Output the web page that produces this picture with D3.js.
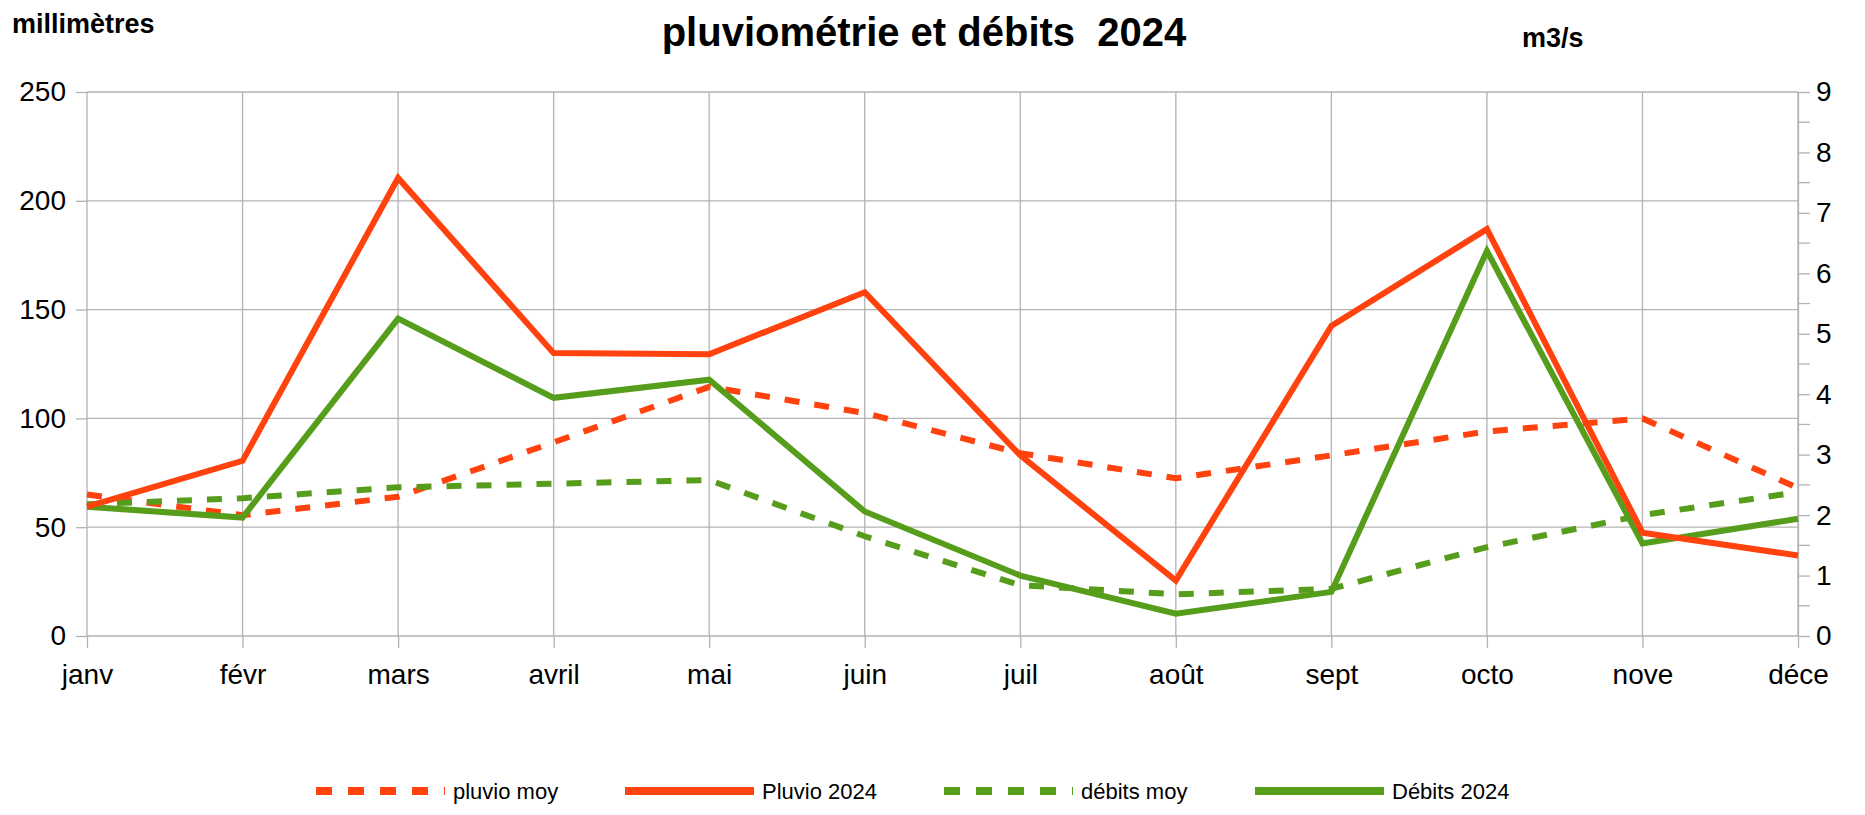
<!DOCTYPE html>
<html lang="fr">
<head>
    <meta charset="UTF-8">
    <title>pluviométrie et débits 2024</title>
    <script type="application/javascript" src="https://cdnjs.cloudflare.com/ajax/libs/d3/7.8.5/d3.min.js"></script>
    <style type="text/css">
        body { margin: 0; background: #fff; }
        svg { font-family: "Liberation Sans", Arial, sans-serif; }
        .grid line { stroke: #b3b3b3; stroke-width: 1.3; }
        .axis path, .axis line { stroke: #b3b3b3; stroke-width: 1.3; }
        .axis text { fill: #000; }
    </style>
</head>
<body>
<svg width="1865" height="815"></svg>
<script type="application/javascript">
    var MONTHS = ['janv', 'févr', 'mars', 'avril', 'mai', 'juin', 'juil', 'août', 'sept', 'octo', 'nove', 'déce'];
    var PLUVIO_MOY = [65, 55.5, 64, 89, 114.5, 102.5, 84, 72.5, 83, 94, 100, 68];
    var PLUVIO_2024 = [59.5, 80.5, 210.5, 130, 129.5, 158, 83, 25.5, 142.5, 187, 47.5, 37];
    var DEBITS_MOY = [2.18, 2.28, 2.46, 2.52, 2.58, 1.65, 0.84, 0.69, 0.78, 1.47, 2.0, 2.38];
    var DEBITS_2024 = [2.14, 1.96, 5.25, 3.94, 4.24, 2.06, 1.0, 0.37, 0.73, 6.37, 1.53, 1.94];
    var LEFT_TICKS = [0, 50, 100, 150, 200, 250];
    var RIGHT_TICKS = [0, 1, 2, 3, 4, 5, 6, 7, 8, 9];

    var RED = '#ff420e';
    var GREEN = '#579d1c';

    var svg = d3.select('svg');
    var margin = {top: 92, right: 67, bottom: 179, left: 87};
    var width = +svg.attr('width') - margin.left - margin.right;
    var height = +svg.attr('height') - margin.top - margin.bottom;

    var x = d3.scalePoint().domain(MONTHS).range([0, width]);
    var yL = d3.scaleLinear().domain([0, 250]).range([height, 0]);
    var yR = d3.scaleLinear().domain([0, 9]).range([height, 0]);

    var g = svg.append('g')
            .attr('transform', 'translate(' + margin.left + ',' + margin.top + ')');

    // grid
    g.append('g')
            .attr('class', 'grid')
            .selectAll('line')
            .data(LEFT_TICKS)
            .enter().append('line')
            .attr('x1', 0).attr('x2', width)
            .attr('y1', function(d) { return yL(d); })
            .attr('y2', function(d) { return yL(d); });

    g.append('g')
            .attr('class', 'grid')
            .selectAll('line')
            .data(MONTHS)
            .enter().append('line')
            .attr('x1', function(d) { return x(d); })
            .attr('x2', function(d) { return x(d); })
            .attr('y1', 0).attr('y2', height);

    // axes
    var axL = g.append('g')
            .attr('class', 'axis')
            .call(d3.axisLeft(yL).tickValues(LEFT_TICKS).tickSize(11).tickPadding(10));
    axL.select('.domain').remove();
    axL.selectAll('text').attr('font-size', 28);

    var axR = g.append('g')
            .attr('class', 'axis')
            .attr('transform', 'translate(' + width + ',0)')
            .call(d3.axisRight(yR).tickValues(RIGHT_TICKS).tickSize(12).tickSizeOuter(0).tickPadding(6));
    axR.selectAll('text').attr('font-size', 28);

    // minor ticks on right axis
    g.append('g')
            .attr('class', 'axis')
            .selectAll('line')
            .data(RIGHT_TICKS.slice(0, -1))
            .enter().append('line')
            .attr('x1', width).attr('x2', width + 12)
            .attr('y1', function(d) { return yR(d + 0.5); })
            .attr('y2', function(d) { return yR(d + 0.5); });

    var axB = g.append('g')
            .attr('class', 'axis')
            .attr('transform', 'translate(0,' + height + ')')
            .call(d3.axisBottom(x).tickSize(12).tickPadding(16));
    axB.select('.domain').remove();
    axB.selectAll('text').attr('font-size', 28);

    // series
    var series = [
        {name: 'pluvio moy', values: PLUVIO_MOY, y: yL, color: RED, dash: '15,15'},
        {name: 'Pluvio 2024', values: PLUVIO_2024, y: yL, color: RED, dash: null},
        {name: 'débits moy', values: DEBITS_MOY, y: yR, color: GREEN, dash: '15,15'},
        {name: 'Débits 2024', values: DEBITS_2024, y: yR, color: GREEN, dash: null}
    ];

    var drawOrder = [series[0], series[2], series[3], series[1]];

    drawOrder.forEach(function(s) {
        var line = d3.line()
                .x(function(d, i) { return x(MONTHS[i]); })
                .y(function(d) { return s.y(d); });
        g.append('path')
                .datum(s.values)
                .attr('fill', 'none')
                .attr('stroke', s.color)
                .attr('stroke-width', 6)
                .attr('stroke-linejoin', 'miter')
                .attr('stroke-dasharray', s.dash)
                .attr('d', line);
    });

    // titles
    svg.append('text')
            .attr('x', 924)
            .attr('y', 46)
            .attr('text-anchor', 'middle')
            .attr('font-size', 40)
            .attr('font-weight', 'bold')
            .style('white-space', 'pre')
            .text('pluviométrie et débits  2024');

    svg.append('text')
            .attr('x', 12)
            .attr('y', 33)
            .attr('font-size', 27)
            .attr('font-weight', 'bold')
            .text('millimètres');

    svg.append('text')
            .attr('x', 1522)
            .attr('y', 47)
            .attr('font-size', 27)
            .attr('font-weight', 'bold')
            .text('m3/s');

    // legend
    var LEGEND_X = [316, 625, 944, 1255];
    var legend = svg.append('g')
            .selectAll('g')
            .data(series)
            .enter().append('g')
            .attr('transform', function(d, i) { return 'translate(' + LEGEND_X[i] + ',791)'; });

    legend.append('line')
            .attr('x1', 0).attr('x2', 129)
            .attr('stroke', function(d) { return d.color; })
            .attr('stroke-width', 8)
            .attr('stroke-dasharray', function(d) { return d.dash ? '16,16' : null; });

    legend.append('text')
            .attr('x', 137)
            .attr('dy', '0.35em')
            .attr('font-size', 22)
            .text(function(d) { return d.name; });
</script>
</body>
</html>
